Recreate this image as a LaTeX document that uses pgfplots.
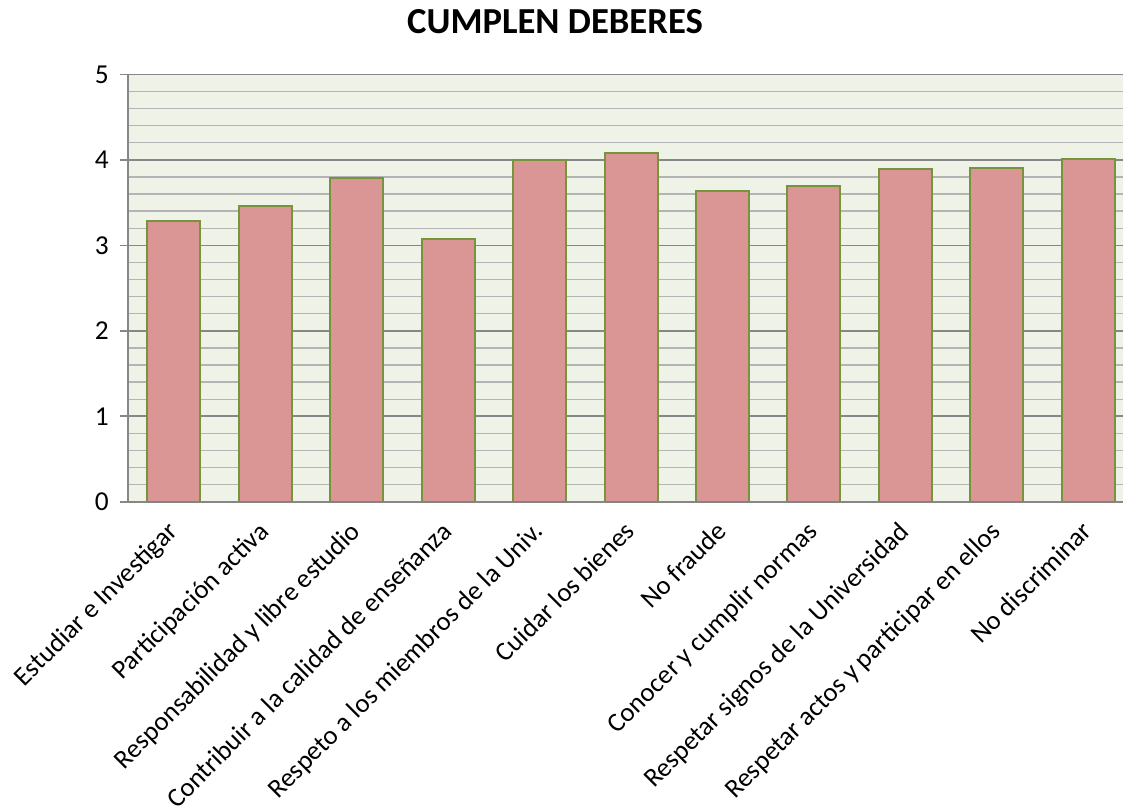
\documentclass[border=0pt]{standalone}
\usepackage{fontspec}
\setmainfont{Carlito}
\usepackage{pgfplots}
\pgfplotsset{compat=1.18}
\definecolor{barfill}{HTML}{D99694}
\definecolor{baredge}{HTML}{77933C}
\definecolor{plotbg}{HTML}{EEF2E7}
\definecolor{majgrid}{HTML}{878787}
\definecolor{mingrid}{HTML}{B4B4B4}
\begin{document}
\begin{tikzpicture}
\useasboundingbox (-96pt,-229.7pt) rectangle (746.25pt,376.3pt);
\begin{axis}[
  scale only axis, width=754.5pt, height=320.5pt,
  xmin=-0.5, xmax=10.5, ymin=0, ymax=5,
  axis x line*=bottom, axis y line*=left,
  axis line style={draw=majgrid, line width=1.2pt, -},
  ytick={0,1,2,3,4,5}, minor y tick num=4,
  ymajorgrids, yminorgrids,
  major grid style={draw=majgrid, line width=1.2pt},
  minor grid style={draw=mingrid, line width=1pt},
  tick align=outside,
  major tick length=6pt, minor tick length=0pt,
  ytick style={draw=majgrid, line width=1.2pt},
  xtick style={draw=none},
  xtick={0,1,2,3,4,5,6,7,8,9,10},
  xticklabels={Estudiar e Investigar, Participación activa, Responsabilidad y libre estudio, Contribuir a la calidad de enseñanza, Respeto a los miembros de la Univ., Cuidar los bienes, No fraude, Conocer y cumplir normas, Respetar signos de la Universidad, Respetar actos y participar en ellos, No discriminar},
  xticklabel style={xshift=-6pt, yshift=-6pt, font=\fontsize{20}{24}\selectfont, rotate=45, anchor=north east, inner sep=1pt},
  yticklabel style={font=\fontsize{20.5}{24}\selectfont, xshift=-5pt},
  /pgf/number format/assume math mode=true,
  axis background/.style={fill=plotbg},
  ybar, bar width=39.75pt,
]
\addplot[fill=barfill, draw=baredge, line width=1.5pt] coordinates {
  (0,3.28) (1,3.46) (2,3.79) (3,3.07) (4,4.00) (5,4.08)
  (6,3.64) (7,3.70) (8,3.89) (9,3.90) (10,4.01)
};
\end{axis}
\node[anchor=base, font=\fontsize{27.5}{32}\selectfont\bfseries] at (320.25pt,351pt) {CUMPLEN DEBERES};
\end{tikzpicture}
\end{document}
